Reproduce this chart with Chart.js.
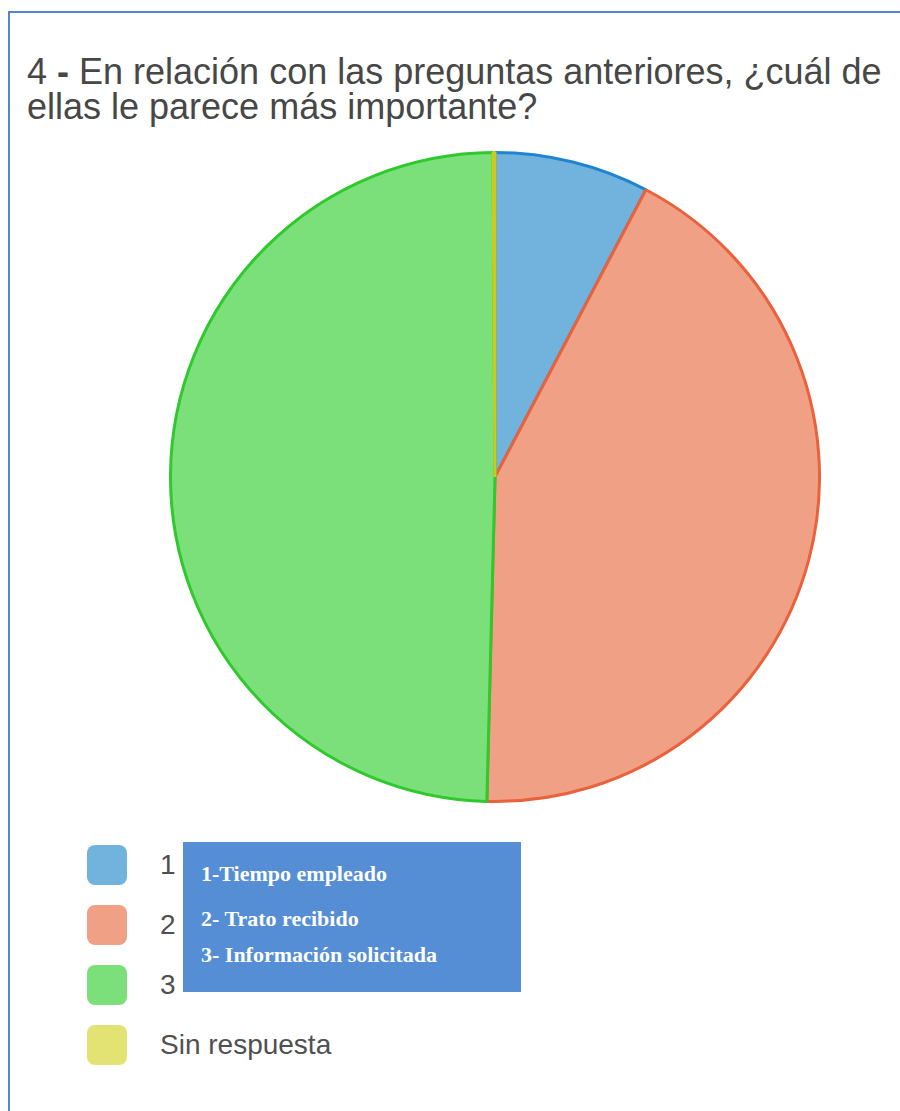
<!DOCTYPE html>
<html lang="es">
<head>
<meta charset="utf-8">
<title>Pregunta 4</title>
<script src="https://cdn.jsdelivr.net/npm/chart.js@4"></script>
<style>
  html, body { margin: 0; padding: 0; background: #fff; }
  body { width: 900px; height: 1111px; position: relative; overflow: hidden; font-family: Arial, "Liberation Sans", sans-serif; }
  #frame {
    position: absolute; left: 8px; top: 11px; width: 900px; height: 1200px;
    border-left: 2px solid #5485c9; border-top: 2px solid #5485c9;
  }
  #title {
    position: absolute; left: 27px; top: 54px; margin: 0;
    font-size: 36px; line-height: 35px; font-weight: normal; color: #474747;
    white-space: nowrap;
  }
  #title b { font-weight: bold; }
  #pie-wrap { position: absolute; left: 169px; top: 151px; width: 652px; height: 652px; }
  #legend { position: absolute; left: 87px; top: 845px; margin: 0; padding: 0; list-style: none; }
  #legend li { height: 40px; margin-bottom: 20px; display: flex; align-items: center; }
  #legend .box { width: 40px; height: 40px; border-radius: 8px; margin-right: 33px; }
  #legend .txt { font-size: 28px; color: #505050; }
  #note {
    position: absolute; left: 183px; top: 842px; width: 338px; height: 150px;
    background: #558ed5; color: #fff;
    font-family: "Liberation Serif", "Times New Roman", serif; font-weight: bold; font-size: 22px;
  }
  #note div { position: absolute; left: 18px; white-space: nowrap; }
</style>
</head>
<body>
<div id="frame"></div>
<h1 id="title">4 <b>-</b> En relación con las preguntas anteriores, ¿cuál de<br>ellas le parece más importante?</h1>
<div id="pie-wrap"><canvas id="pie" width="652" height="652"></canvas></div>
<ul id="legend"></ul>
<div id="note">
  <div style="top:19px">1-Tiempo empleado</div>
  <div style="top:64px">2- Trato recibido</div>
  <div style="top:100px">3- Información solicitada</div>
</div>
<script>
const labels = ['1', '2', '3', 'Sin respuesta'];
const values = [7.7, 42.7, 49.5, 0.1];   // % de respuestas
const fillColors = ['#72b3dd', '#f0a185', '#7ce07a', '#e3e374'];
const lineColors = ['#1f84d2', '#e8623d', '#2fc92d', '#c9cc1c'];

const pie = new Chart(document.getElementById('pie'), {
  type: 'pie',
  data: {
    labels: labels,
    datasets: [{
      data: values,
      backgroundColor: fillColors,
      borderColor: lineColors,
      borderWidth: 3
    }]
  },
  options: {
    responsive: false,
    animation: false,
    layout: { padding: 0 },
    plugins: {
      legend: { display: false },
      tooltip: { enabled: false }
    }
  }
});

// legend list built from the chart's own labels
const legendEl = document.getElementById('legend');
pie.options.plugins.legend.labels.generateLabels(pie).forEach(item => {
  const li = document.createElement('li');
  const box = document.createElement('span');
  box.className = 'box';
  box.style.background = item.fillStyle;
  const txt = document.createElement('span');
  txt.className = 'txt';
  txt.textContent = item.text;
  li.appendChild(box);
  li.appendChild(txt);
  legendEl.appendChild(li);
});
</script>
</body>
</html>
